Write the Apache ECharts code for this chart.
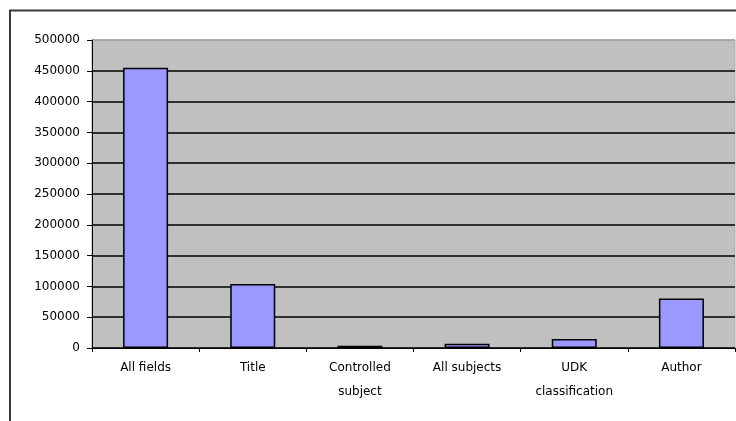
<!DOCTYPE html>
<html>
<head>
<meta charset="utf-8">
<style>
  html, body { margin: 0; padding: 0; background: #ffffff; }
  #chart { width: 736px; height: 421px; }
</style>
<script src="https://cdn.jsdelivr.net/npm/echarts@6/dist/echarts.min.js"></script>
</head>
<body>
<div id="chart"></div>
<script>
// Search hits per field
const categories = ['All fields', 'Title', 'Controlled\nsubject', 'All subjects', 'UDK\nclassification', 'Author'];
const hits = [455000, 104000, 3500, 7000, 14500, 80500];
const yTicks = [0, 50000, 100000, 150000, 200000, 250000, 300000, 350000, 400000, 450000, 500000];

// one colour per grid line; the topmost line falls on the plot border
const gridLineColors = yTicks.map((v, i) => i === yTicks.length - 1 ? '#a0a0a0' : '#000000');

const chart = echarts.init(document.getElementById('chart'), null, { renderer: 'canvas' });

chart.setOption({
  animation: false,
  backgroundColor: '#ffffff',
  textStyle: { fontFamily: 'DejaVu Sans' },
  graphic: [{
    type: 'rect',
    shape: { x: 10, y: 10.5, width: 800, height: 500 },
    style: { fill: 'none', stroke: '#3a3a3a', lineWidth: 2 },
    z: -10
  }],
  grid: {
    left: 92, top: 40, right: 1, bottom: 73,
    show: true,
    backgroundColor: '#c0c0c0',
    borderColor: '#a8a8a8',
    borderWidth: 1
  },
  xAxis: {
    type: 'category',
    data: categories,
    boundaryGap: true,
    axisLine: { show: true, lineStyle: { color: '#000000', width: 1 } },
    axisTick: { show: true, alignWithLabel: false, length: 4, lineStyle: { color: '#000000' } },
    axisLabel: {
      interval: 0,
      margin: 8,
      fontSize: 12,
      lineHeight: 24,
      color: '#000000',
      fontFamily: 'DejaVu Sans'
    },
    splitLine: { show: false }
  },
  yAxis: {
    type: 'value',
    min: yTicks[0],
    max: yTicks[yTicks.length - 1],
    interval: yTicks[1] - yTicks[0],
    axisLine: { show: true, lineStyle: { color: '#000000', width: 1 } },
    axisTick: { show: true, inside: false, length: 5, lineStyle: { color: '#000000' } },
    axisLabel: {
      margin: 12,
      fontSize: 12,
      color: '#000000',
      fontFamily: 'DejaVu Sans',
      formatter: v => String(v)
    },
    splitLine: { show: true, lineStyle: { color: gridLineColors, width: 1.5 } }
  },
  series: [{
    type: 'bar',
    data: hits,
    barWidth: 45,
    itemStyle: { color: '#9999ff', borderColor: '#000000', borderWidth: 1.5 }
  }]
});
</script>
</body>
</html>
